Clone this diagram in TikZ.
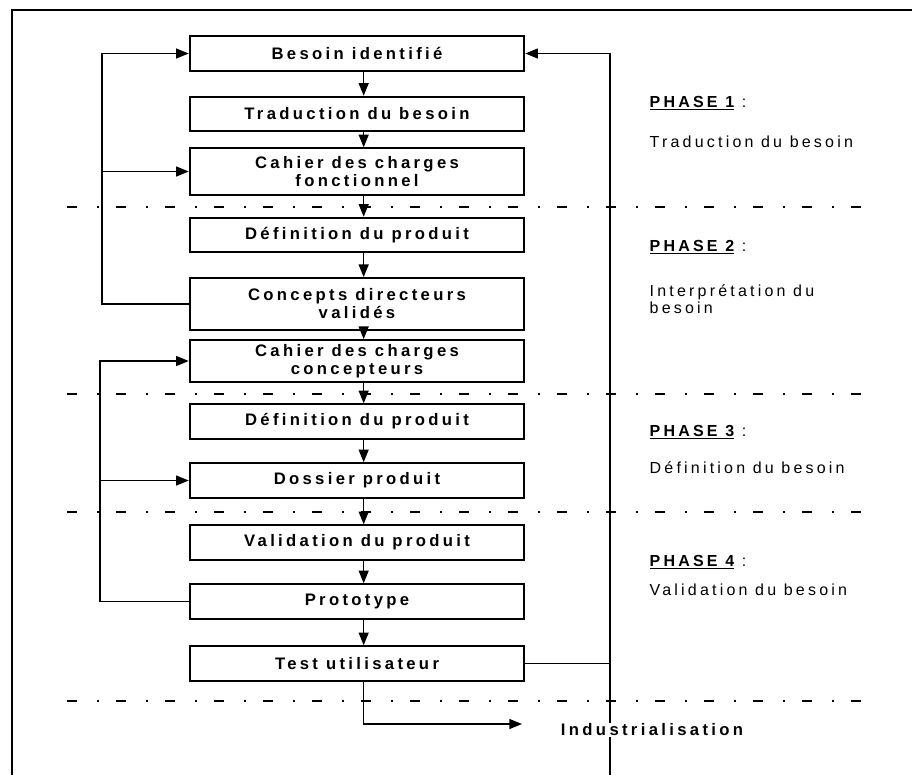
\documentclass[tikz,border=0pt]{standalone}
\usepackage{fontspec}
\setmainfont{Liberation Sans}
\newfontfamily\espace[LetterSpace=20]{Liberation Sans}
\usetikzlibrary{arrows.meta}

\tikzset{
  etape/.style={draw,line width=1.4pt,minimum width=251pt,minimum height=26pt,inner sep=2pt,align=center,font=\espace\bfseries\fontsize{12.5pt}{13.5pt}\selectfont},
  etapehaute/.style={etape,minimum height=35pt},
  fleche/.style={line width=1pt,-{Triangle[length=9.5pt,width=7.5pt]}},
  lien/.style={line width=1pt},
  separation/.style={line width=1pt,dash pattern=on 7.5pt off 15pt on 1.5pt off 12.75pt},
  phase/.style={anchor=west,align=left,font=\espace\fontsize{12pt}{13pt}\selectfont},
}

\begin{document}
\begin{tikzpicture}[x=0.75pt,y=-0.75pt]
\useasboundingbox (0,0) rectangle (912,775);

\draw [line width=1.4pt] (12,775) -- (12,10) -- (912,10);

\draw [separation] (67,207) -- (867,207);
\draw [separation] (67,394) -- (867,394);
\draw [separation] (67,512) -- (867,512);
\draw [separation] (67,701) -- (867,701);

\node (b1) at (357,53.5) [etape] {Besoin identifié};
\node (b2) at (357,114) [etape] {Traduction du besoin};
\node (b3) at (357,171.5) [etapehaute] {Cahier des charges\\fonctionnel};
\node (b4) at (357,235) [etape] {Définition du produit};
\node (b5) at (357,304) [etapehaute,minimum height=39pt] {Concepts directeurs\\validés};
\node (b6) at (357,361) [etapehaute,minimum height=31.5pt] {Cahier des charges\\concepteurs};
\node (b7) at (357,421.5) [etape] {Définition du produit};
\node (b8) at (357,480.5) [etape] {Dossier produit};
\node (b9) at (357,542.5) [etape] {Validation du produit};
\node (b10) at (357,601.5) [etape] {Prototype};
\node (b11) at (357,663.5) [etape] {Test utilisateur};

\node (p1) at (645,103) [phase] {\underline{\bfseries PHASE 1} :};
\node (t1) at (645,142) [phase] {Traduction du besoin};
\node (p2) at (645,247) [phase] {\underline{\bfseries PHASE 2} :};
\node (t2) at (645,299) [phase] {Interprétation du\\besoin};
\node (p3) at (645,432) [phase] {\underline{\bfseries PHASE 3} :};
\node (t3) at (645,468) [phase] {Définition du besoin};
\node (p4) at (645,562) [phase] {\underline{\bfseries PHASE 4} :};
\node (t4) at (645,590) [phase] {Validation du besoin};

\draw [fleche] ([xshift=5pt]b1.south) -- ([xshift=5pt]b2.north);
\draw [fleche] ([xshift=5pt]b2.south) -- ([xshift=5pt]b3.north);
\draw [fleche] ([xshift=5pt]b3.south) -- ([xshift=5pt]b4.north);
\draw [fleche] ([xshift=5pt]b4.south) -- ([xshift=5pt]b5.north);
\draw [fleche] ([xshift=5pt]b5.south) -- ([xshift=5pt]b6.north);
\draw [fleche] ([xshift=5pt]b6.south) -- ([xshift=5pt]b7.north);
\draw [fleche] ([xshift=5pt]b7.south) -- ([xshift=5pt]b8.north);
\draw [fleche] ([xshift=5pt]b8.south) -- ([xshift=5pt]b9.north);
\draw [fleche] ([xshift=5pt]b9.south) -- ([xshift=5pt]b10.north);
\draw [fleche] ([xshift=5pt]b10.south) -- ([xshift=5pt]b11.north);

% retours a gauche
\coordinate (gauche1) at (102,304);
\draw [fleche] (b5.west) -- (gauche1) |- (b1.west);
\draw [fleche] (gauche1 |- b3.west) -- (b3.west);
\coordinate (gauche2) at (100,601.5);
\draw [fleche] (b10.west) -- (gauche2) |- (b6.west);
\draw [fleche] (gauche2 |- b8.west) -- (b8.west);

% retour a droite
\coordinate (hautdroit) at (610,53.5);
\coordinate (basdroit) at (610,775);
\draw [fleche] (b11.east) -| (hautdroit) -- (b1.east);
\draw [lien] (b11.east -| hautdroit) -- (basdroit);

\node (indus) at (652,730) [fill=white,inner sep=1pt,font=\espace\bfseries\fontsize{12.5pt}{13pt}\selectfont] {Industrialisation};
\coordinate (fin) at (522,724);
\draw [fleche] ([xshift=5pt]b11.south) |- (fin);
\end{tikzpicture}
\end{document}
